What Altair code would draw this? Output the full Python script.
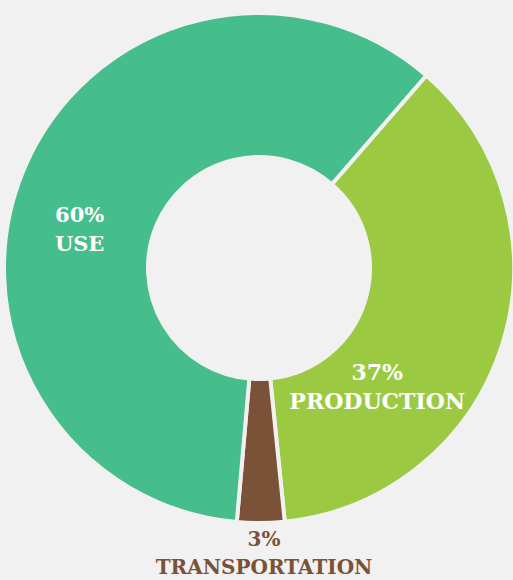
import altair as alt
import pandas as pd
import math

categories = ["PRODUCTION", "TRANSPORTATION", "USE"]
values = [37, 3, 60]
pct_labels = ["37%", "3%", "60%"]
colors = ["#9bca42", "#7a5238", "#45bd8c"]
bg = "#f1f1f1"

df = pd.DataFrame({
    "category": categories,
    "value": values,
    "order": [0, 1, 2],
    "label": [[p, c] for p, c in zip(pct_labels, categories)],
})

start = math.radians(41)
theta_range = [start, start + 2 * math.pi]
color_scale = alt.Scale(domain=categories, range=colors)

arcs = alt.Chart(df).mark_arc(
    outerRadius=255, innerRadius=111, stroke=bg, strokeWidth=4
).encode(
    theta=alt.Theta("value:Q", stack=True, scale=alt.Scale(range=theta_range)),
    order=alt.Order("order:Q"),
    color=alt.Color("category:N", scale=color_scale, legend=None),
)

text_base = alt.Chart(df).transform_window(
    cum="sum(value)", sort=[alt.SortField("order")]
).transform_calculate(
    mid="datum.cum - datum.value / 2"
)

font = "DejaVu Serif"

def label(cat, r, dx, dy, color, size, lh=29):
    return text_base.transform_filter(alt.datum.category == cat).mark_text(
        radius=r, dx=dx, dy=dy, font=font, fontWeight="bold",
        fontSize=size, lineHeight=lh, align="center", baseline="middle",
        color=color,
    ).encode(
        theta=alt.Theta("mid:Q", stack=False,
                        scale=alt.Scale(domain=[0, 100], range=theta_range)),
        text="label",
    )

t_use = label("USE", 184, -10, 20, "white", 21)
t_prod = label("PRODUCTION", 167, -41, 55, "white", 22)
t_trans = label("TRANSPORTATION", 291, 3, -19, "#7a5238", 20, 28)

chart = alt.layer(arcs, t_use, t_prod, t_trans).resolve_scale(
    theta="independent"
).properties(
    width=508, height=536,
    padding={"left": 5, "top": 0, "right": 0, "bottom": 44},
    autosize=alt.AutoSizeParams(type="none"),
    background=bg,
).configure_view(stroke=None)

chart.save("out.html", embed_options={"renderer": "svg", "actions": False})
